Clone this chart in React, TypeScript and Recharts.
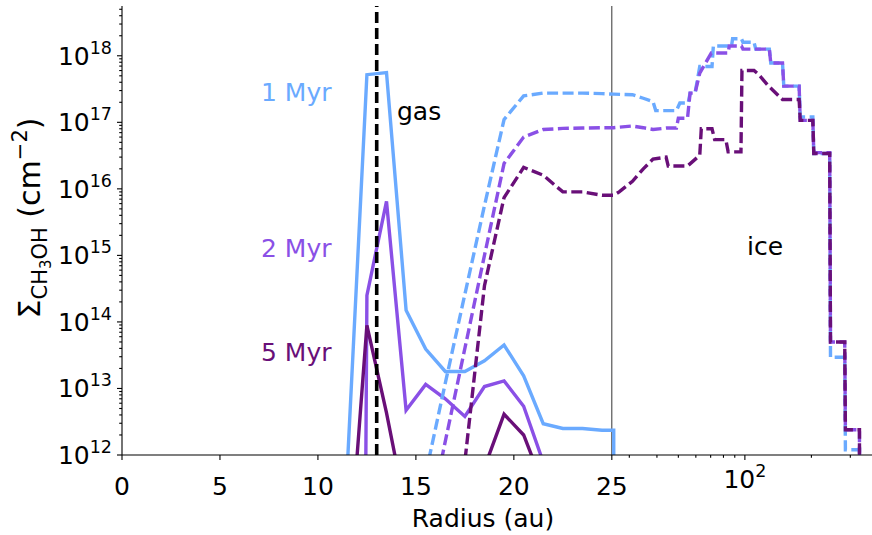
import React from 'react';
import { LineChart, Line, XAxis, YAxis, ReferenceLine } from 'recharts';

// x axis is linear up to 25 au, logarithmic beyond
const LIN_EDGE = 25;
const LOG_STRETCH = 11.28; // linear x-units per decade beyond 25 au
const toU = (r: number) => (r <= LIN_EDGE ? r : LIN_EDGE + LOG_STRETCH * Math.log10(r / LIN_EDGE));
const R_MAX = 376;
const Y_MIN = 1e12;
const Y_MAX = 5.6e18;
const FLOOR = 1e-30; // stands in for zero on the log axis

const C1 = '#6aaaff';
const C2 = '#8a50e6';
const C5 = '#690f78';

// gas phase (solid)
const gas1R = [11.5, 12.5, 13.5, 14.5, 15.5, 16.5, 17.5, 18.5, 19.5, 20.5, 21.5, 22.5, 23.5, 24.5, 25.5, 26.5];
const gas1V = [6.6e11, 5.2e17, 5.6e17, 1.5e14, 3.9e13, 1.8e13, 1.8e13, 2.6e13, 4.5e13, 1.55e13, 2.95e12, 2.5e12, 2.5e12, 2.35e12, 2.35e12, 0];

const gas2R = [11.5, 12.5, 13.5, 14.5, 15.5, 16.5, 17.5, 18.5, 19.5, 20.5, 21.5, 22.5];
const gas2V = [0, 2.5e14, 6.5e15, 4.7e12, 1.15e13, 7e12, 3.8e12, 1.07e13, 1.3e13, 5.4e12, 7.8e11, 0];

const gas5R = [11.5, 12.5, 13.5, 14.5, 15.5, 16.5, 17.5, 18.5, 19.5, 20.5, 21.5, 22.5];
const gas5V = [1.1e10, 8.9e13, 4.3e12, 1.4e11, 1e10, 1e10, 1e10, 6.5e11, 4.1e12, 2e12, 3.5e11, 0];

// ice phase (dashed)
const ice1R = [14.5, 15.5, 16.5, 17.5, 18.5, 19.5, 20.5, 21.5, 22.5, 23.5, 24.5, 25.5,
  31, 34.7, 38.4, 39.5, 49, 50.8, 55.4, 56.5, 59.5, 62.5, 71, 72, 87, 88, 96.5, 98, 110, 112,
  129, 131, 148, 150, 176, 178, 203, 205, 242, 244, 283, 285, 330, 332];
const ice1V = [0, 5.2e11, 1.2e13, 2.6e14, 5.6e15, 1.1e17, 2.5e17, 2.75e17, 2.75e17, 2.75e17, 2.7e17, 2.65e17,
  2.6e17, 2.3e17, 2.05e17, 1.5e17, 1.5e17, 1.95e17, 1.95e17, 2.75e17, 2.75e17, 6.9e17, 6.9e17, 1.4e18, 1.4e18, 1.8e18, 1.8e18, 1.6e18, 1.6e18, 1.26e18,
  1.26e18, 7.8e17, 7.8e17, 3.5e17, 3.5e17, 1.2e17, 1.2e17, 3.4e16, 3.4e16, 2.95e13, 2.95e13, 1.2e12, 1.2e12, 0];

const ice2R = [15.5, 16.5, 17.5, 18.5, 19.5, 20.5, 21.5, 22.5, 23.5, 24.5, 25.5,
  31, 34.7, 38.4, 44, 49, 50, 55, 56.5, 59.5, 62.5, 70.5, 84, 85, 96.5, 98, 129, 131,
  148, 150, 176, 178, 203, 205, 242, 244, 283, 285, 330, 332];
const ice2V = [6e10, 1.6e12, 4e13, 1e15, 2.4e16, 6e16, 7.8e16, 8.1e16, 8.2e16, 8.3e16, 8.3e16,
  8.8e16, 8.3e16, 7.8e16, 8.2e16, 8.2e16, 1.15e17, 1.15e17, 2.75e17, 2.75e17, 5.5e17, 1.1e18, 1.1e18, 1.4e18, 1.4e18, 1.26e18, 1.26e18, 7.8e17,
  7.8e17, 3.5e17, 3.5e17, 1.07e17, 1.07e17, 3.5e16, 3.5e16, 5e13, 5e13, 2.4e12, 2.4e12, 0];

const ice5R = [16.5, 17.5, 18.5, 19.5, 20.5, 21.5, 22.5, 23.5, 24.5, 25.5,
  27, 31, 34.7, 38.4, 44, 45, 55, 62.5, 63.5, 71, 73, 82, 84, 96, 97, 110, 115, 128,
  148, 176, 178, 203, 205, 242, 244, 283, 285, 330, 332];
const ice5V = [0, 8e11, 3.5e14, 7.4e15, 2.1e16, 1.6e16, 9e15, 9e15, 8e15, 8e15,
  9e15, 1.3e16, 2e16, 2.8e16, 3e16, 2.2e16, 2.2e16, 3.2e16, 8e16, 8e16, 5.5e16, 5.5e16, 3.6e16, 3.6e16, 6e17, 6e17, 5.3e17, 3.5e17,
  2.2e17, 2.2e17, 1.07e17, 1.07e17, 3.4e16, 3.4e16, 5e13, 5e13, 2.4e12, 2.4e12, 0];

// ticks
const xMajor = [0, 5, 10, 15, 20, 25, 100];
const xMajorLabels = ['0', '5', '10', '15', '20', '25', '10^2'];
const xMinor = [30, 40, 50, 60, 70, 80, 90, 200, 300];
const yDecades = [12, 13, 14, 15, 16, 17, 18];

const makeSeries = (r: number[], v: number[]) =>
  r.map((ri, i) => ({ u: toU(ri), v: Math.max(v[i], FLOOR) }));

const xTickInfo = new Map<number, string | null>();
xMajor.forEach((r, i) => xTickInfo.set(toU(r), xMajorLabels[i]));
xMinor.forEach((r) => xTickInfo.set(toU(r), null));
const xTicks = Array.from(xTickInfo.keys());

const yTicks: number[] = [];
yDecades.forEach((d) => {
  for (let m = 1; m <= 9; m++) {
    const val = m * Math.pow(10, d);
    if (val <= Y_MAX) yTicks.push(val);
  }
});

const FONT = 'DejaVu Sans, sans-serif';

const Pow10 = ({ x, y, exp, anchor }: any) => (
  <text x={x} y={y} textAnchor={anchor} fontSize={25} fontFamily={FONT} fill="#000">
    <tspan>10</tspan>
    <tspan dy={-11} fontSize={17.5}>{exp}</tspan>
  </text>
);

const XTick = ({ x, y, payload }: any) => {
  const label = xTickInfo.get(payload.value);
  const major = label !== null && label !== undefined;
  return (
    <g>
      <line x1={x} x2={x} y1={y} y2={y + (major ? 5 : 2.8)} stroke="#000" strokeWidth={1.1} />
      {major && label === '10^2' && <Pow10 x={x} y={y + 33} exp="2" anchor="middle" />}
      {major && label !== '10^2' && (
        <text x={x} y={y + 40} textAnchor="middle" fontSize={25} fontFamily={FONT} fill="#000">
          {label}
        </text>
      )}
    </g>
  );
};

const YTick = ({ x, y, payload }: any) => {
  const lg = Math.log10(payload.value);
  const major = Math.abs(lg - Math.round(lg)) < 1e-9;
  return (
    <g>
      <line x1={x} x2={x - (major ? 5 : 2.8)} y1={y} y2={y} stroke="#000" strokeWidth={1.1} />
      {major && <Pow10 x={x - 10} y={y + 9} exp={String(Math.round(lg))} anchor="end" />}
    </g>
  );
};

const labelStyle = { fontSize: 25, fontFamily: FONT };

export default function App() {
  const series = [
    { key: 'g1', data: makeSeries(gas1R, gas1V), color: C1, dash: undefined },
    { key: 'g2', data: makeSeries(gas2R, gas2V), color: C2, dash: undefined },
    { key: 'g5', data: makeSeries(gas5R, gas5V), color: C5, dash: undefined },
    { key: 'i1', data: makeSeries(ice1R, ice1V), color: C1, dash: '11 4.5' },
    { key: 'i2', data: makeSeries(ice2R, ice2V), color: C2, dash: '11 4.5' },
    { key: 'i5', data: makeSeries(ice5R, ice5V), color: C5, dash: '11 4.5' },
  ];

  return (
    <div style={{ position: 'absolute', left: 0, top: 0, width: 872, height: 535, background: '#fff' }}>
      <LineChart width={872} height={535} margin={{ top: 6, right: 0, bottom: 0, left: 0 }}>
        <XAxis
          dataKey="u"
          type="number"
          domain={[0, toU(R_MAX)]}
          ticks={xTicks}
          interval={0}
          allowDataOverflow
          height={80}
          tickSize={0}
          tickMargin={0}
          tickLine={false}
          tick={<XTick />}
          axisLine={{ stroke: '#000', strokeWidth: 1.1 }}
        />
        <XAxis
          xAxisId="top"
          orientation="top"
          type="number"
          domain={[0, toU(R_MAX)]}
          height={0}
          tick={false}
          tickLine={false}
          axisLine={{ stroke: '#000', strokeWidth: 1.1 }}
        />
        <YAxis
          type="number"
          scale="log"
          domain={[Y_MIN, Y_MAX]}
          ticks={yTicks}
          interval={0}
          allowDataOverflow
          width={122}
          tickSize={0}
          tickMargin={0}
          tickLine={false}
          tick={<YTick />}
          axisLine={{ stroke: '#000', strokeWidth: 1.1 }}
        />
        <ReferenceLine x={toU(25)} stroke="#333" strokeWidth={1} />
        {series.map((s) => (
          <Line
            key={s.key}
            data={s.data}
            dataKey="v"
            type="linear"
            stroke={s.color}
            strokeWidth={3.4}
            strokeDasharray={s.dash}
            dot={false}
            activeDot={false}
            isAnimationActive={false}
          />
        ))}
        <ReferenceLine x={toU(13)} stroke="#000" strokeWidth={3.6} strokeDasharray="11 5" />
      </LineChart>
      <svg width={872} height={535} style={{ position: 'absolute', left: 0, top: 0, pointerEvents: 'none' }}>
        <text x={261} y={101} fill={C1} {...labelStyle}>1 Myr</text>
        <text x={261} y={257} fill={C2} {...labelStyle}>2 Myr</text>
        <text x={261} y={361} fill={C5} {...labelStyle}>5 Myr</text>
        <text x={397} y={120} fill="#000" {...labelStyle}>gas</text>
        <text x={747} y={255} fill="#000" {...labelStyle}>ice</text>
        <text x={483} y={527} textAnchor="middle" fill="#000" {...labelStyle}>Radius (au)</text>
        <text transform="translate(40,218) rotate(-90)" textAnchor="middle" fill="#000" fontFamily={FONT} fontSize={30}>
          <tspan>Σ</tspan>
          <tspan dy={7} fontSize={21}>CH</tspan>
          <tspan dy={4} fontSize={15}>3</tspan>
          <tspan dy={-4} fontSize={21}>OH</tspan>
          <tspan dy={-7}> (cm</tspan>
          <tspan dy={-13} fontSize={21}>−2</tspan>
          <tspan dy={13}>)</tspan>
        </text>
      </svg>
    </div>
  );
}
